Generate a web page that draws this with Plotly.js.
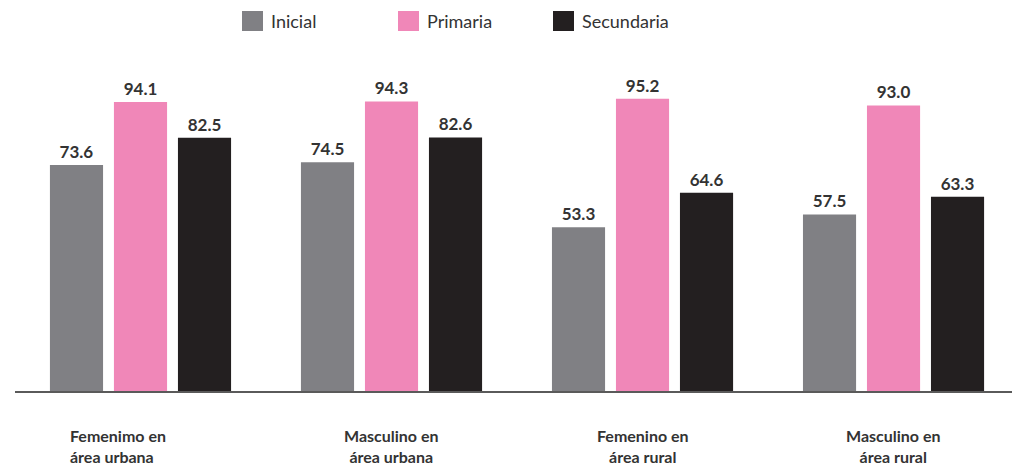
<!DOCTYPE html>
<html>
<head>
<meta charset="utf-8">
<script src="https://cdn.plot.ly/plotly-3.0.1.min.js"></script>
<style>html,body{margin:0;padding:0;background:#fff;}#chart{width:1012px;height:470px;}</style>
</head>
<body>
<div id="chart"></div>
<script>
const categories = ["Femenimo en<br>área urbana", "Masculino en<br>área urbana", "Femenino en<br>área rural", "Masculino en<br>área rural"];
const seriesNames = ["Inicial", "Primaria", "Secundaria"];
const inicial = [73.6, 74.5, 53.3, 57.5];
const primaria = [94.1, 94.3, 95.2, 93.0];
const secundaria = [82.5, 82.6, 64.6, 63.3];
const colors = ["#808084", "#F087B8", "#231F20"];

const values = [inicial, primaria, secundaria];
const xs = categories.map((c, i) => i);

const traces = values.map((v, k) => ({
  type: "bar",
  name: seriesNames[k],
  x: xs,
  y: v,
  marker: {color: colors[k]},
  texttemplate: "%{y:.1f}",
  textposition: "outside",
  textfont: {family: "Lato, sans-serif", size: 17, color: "#333333", weight: 700},
  cliponaxis: false,
  hoverinfo: "skip",
  showlegend: false
}));

const L = 15, W = 997, T = 60, H = 331;
const px2x = p => (p - L) / W;
const py2y = p => (T + H - p) / H;

const shapes = [];
const annotations = [];
const legendSwatchX = [242, 398, 553];
seriesNames.forEach((n, k) => {
  const x0 = legendSwatchX[k];
  shapes.push({type: "rect", xref: "paper", yref: "paper",
    x0: px2x(x0), x1: px2x(x0 + 21), y0: py2y(31), y1: py2y(11),
    fillcolor: colors[k], line: {width: 0}});
  annotations.push({xref: "paper", yref: "paper", x: px2x(x0 + 27), y: py2y(21),
    xanchor: "left", yanchor: "middle", text: n, showarrow: false,
    font: {family: "Lato, sans-serif", size: 18, color: "#333333"}});
});
categories.forEach((c, i) => {
  annotations.push({xref: "x", yref: "paper", x: i, y: 0, yanchor: "top",
    xanchor: i === 0 ? "left" : "center", align: i === 0 ? "left" : "center",
    xshift: i === 0 ? -73 : 0, yshift: -33,
    text: c, showarrow: false,
    font: {family: "Lato, sans-serif", size: 16, color: "#333333", weight: 700}});
});

const layout = {
  width: 1012, height: 470,
  margin: {l: L, r: 0, t: T, b: 470 - T - H},
  paper_bgcolor: "#ffffff", plot_bgcolor: "#ffffff",
  barmode: "group", bargap: 0.235, bargroupgap: 0.17,
  xaxis: {range: [-0.5, 3.472], showline: true, linecolor: "#5a5a5a", linewidth: 2,
    showticklabels: false, ticks: "", showgrid: false, zeroline: false, fixedrange: true},
  yaxis: {range: [0, 107.8], visible: false, showgrid: false, zeroline: false, fixedrange: true},
  showlegend: false,
  shapes: shapes,
  annotations: annotations
};

Plotly.newPlot("chart", traces, layout, {displayModeBar: false, staticPlot: true});
</script>
</body>
</html>
